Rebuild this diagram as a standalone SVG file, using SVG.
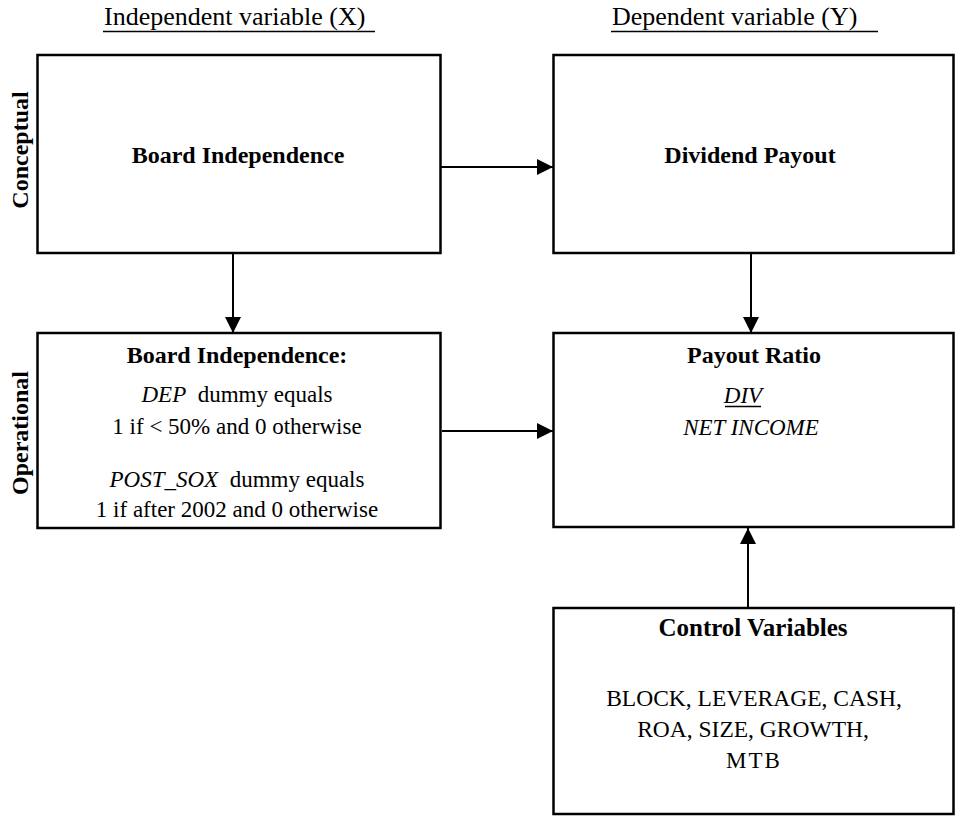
<svg xmlns="http://www.w3.org/2000/svg" width="957" height="816" viewBox="0 0 957 816">
<defs>
<style>
text{font-family:"Liberation Serif","Times New Roman",serif;fill:#000}
.hd{font-size:26px}
.b{font-size:24px;font-weight:bold;text-anchor:middle}
.r{font-size:23px;text-anchor:middle}
.i{font-style:italic}
.box{fill:#fff;stroke:#000;stroke-width:2.5}
.ul{stroke:#000;stroke-width:1.5}
.c{stroke:#000;stroke-width:2;fill:none}
</style>
<marker id="ah" markerUnits="userSpaceOnUse" markerWidth="16" markerHeight="16" viewBox="0 0 16 16" refX="16" refY="8" orient="auto">
<path d="M0,0 L16,8 L0,16 Z" fill="#000"/>
</marker>
</defs>
<rect width="957" height="816" fill="#fff"/>
<g id="headers">
<text class="hd" x="104" y="25">Independent variable (X)</text>
<line class="ul" x1="103" y1="31.5" x2="375" y2="31.5"/>
<text class="hd" x="612" y="25">Dependent variable (Y)</text>
<line class="ul" x1="611" y1="31.5" x2="878" y2="31.5"/>
</g>
<g id="row-labels">
<text class="b" transform="translate(28,150) rotate(-90)">Conceptual</text>
<text class="b" transform="translate(28,433) rotate(-90)">Operational</text>
</g>
<g id="connectors">
<line class="c" x1="441" y1="167" x2="553" y2="167" marker-end="url(#ah)"/>
<line class="c" x1="233" y1="254" x2="233" y2="333" marker-end="url(#ah)"/>
<line class="c" x1="751" y1="254" x2="751" y2="333" marker-end="url(#ah)"/>
<line class="c" x1="442" y1="431" x2="553" y2="431" marker-end="url(#ah)"/>
<line class="c" x1="748" y1="608" x2="748" y2="528" marker-end="url(#ah)"/>
</g>
<g id="board-independence">
<rect class="box" x="37.5" y="55" width="403" height="198"/>
<text class="b" x="238" y="163">Board Independence</text>
</g>
<g id="dividend-payout">
<rect class="box" x="553.5" y="55" width="400" height="198"/>
<text class="b" x="750" y="163">Dividend Payout</text>
</g>
<g id="board-independence-op">
<rect class="box" x="37.5" y="333" width="403" height="195"/>
<text class="b" x="237" y="363">Board Independence:</text>
<text class="r" x="237" y="402" xml:space="preserve"><tspan class="i">DEP</tspan>  dummy equals</text>
<text class="r" x="237" y="434">1 if &lt; 50% and 0 otherwise</text>
<text class="r" x="237" y="487" xml:space="preserve"><tspan class="i">POST_SOX</tspan>  dummy equals</text>
<text class="r" x="237" y="517">1 if after 2002 and 0 otherwise</text>
</g>
<g id="payout-ratio">
<rect class="box" x="553.5" y="333" width="400" height="194"/>
<text class="b" x="754" y="363">Payout Ratio</text>
<text class="r i" x="743" y="403">DIV</text>
<line class="ul" x1="725" y1="406.5" x2="761" y2="406.5"/>
<text class="r i" x="751" y="435">NET INCOME</text>
</g>
<g id="control-variables">
<rect class="box" x="553.5" y="608" width="400" height="206"/>
<text class="b" x="753" y="636" style="font-size:25px">Control Variables</text>
<text class="r" x="754" y="706" style="font-size:23.5px">BLOCK, LEVERAGE, CASH,</text>
<text class="r" x="753" y="737" style="font-size:23.5px">ROA, SIZE, GROWTH,</text>
<text class="r" x="754" y="768" letter-spacing="2">MTB</text>
</g>
</svg>
